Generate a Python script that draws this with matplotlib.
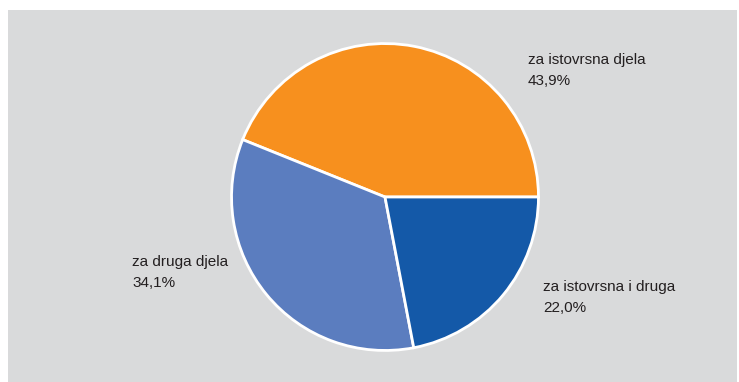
import matplotlib.pyplot as plt
from matplotlib.patches import Rectangle

W, H = 739, 382

categories = ["za istovrsna djela", "za druga djela", "za istovrsna i druga"]
shares = [43.9, 34.1, 22.0]
colors = ["#F7901E", "#5B7DBF", "#1459A8"]

# položaj natpisa (lijevi gornji kut, pikseli slike)
label_pos = [(528, 53), (132, 255), (543, 280)]


def fmt_pct(v) -> str:
    return f"{v:.1f}%".replace(".", ",")


fig = plt.figure(figsize=(W / 100, H / 100), dpi=100)
fig.patch.set_facecolor("white")

# sivi okvir
fig.patches.append(Rectangle((8 / W, 0), 1 - 10 / W, (H - 10) / H,
                             transform=fig.transFigure, facecolor="#D9DADB",
                             edgecolor="none", zorder=-5))

cx, cy, r = 385, 197, 155
ax = fig.add_axes([(cx - r) / W, (H - cy - r) / H, 2 * r / W, 2 * r / H])
ax.set_zorder(2)
ax.patch.set_visible(False)
ax.pie(shares, colors=colors, startangle=0, counterclock=True,
       wedgeprops=dict(edgecolor="white", linewidth=2))
ax.set_xlim(-1.01, 1.01)
ax.set_ylim(-1.01, 1.01)
ax.set_aspect("equal")
ax.axis("off")

for cat, val, (px, py) in zip(categories, shares, label_pos):
    fig.text(px / W, 1 - py / H, f"{cat}\n{fmt_pct(val)}",
             ha="left", va="top", fontsize=11, color="#231F20",
             family=["Liberation Sans", "DejaVu Sans"],
             linespacing=1.6, zorder=3)

fig.savefig("out.png", dpi=100)
